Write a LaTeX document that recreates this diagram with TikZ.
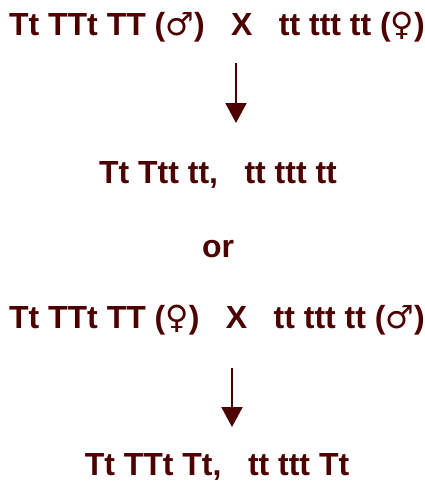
\documentclass[tikz,border=0pt]{standalone}
\usepackage{fontspec}
\setmainfont{Liberation Sans}
\newfontfamily\symfont{DejaVu Sans}
\usetikzlibrary{arrows.meta}
\definecolor{cross}{RGB}{77,0,0}
\newcommand{\sexm}{{\symfont\mdseries ♂}}
\newcommand{\sexf}{{\symfont\mdseries ♀}}
\newcommand{\gap}{\hspace{0.55em}}

\begin{document}
\begin{tikzpicture}[x=0.02cm, y=-0.02cm,
    line/.style={inner sep=0pt, anchor=base, text=cross,
      font=\fontsize{18.2}{22}\selectfont\bfseries},
    arr/.style={draw=cross, line width=0.04cm,
      -{Triangle[width=0.42cm, length=0.4cm]}}]

    % picture size
    \useasboundingbox (0, 0) rectangle (424, 481);

    % first cross
    \node[line] (p1) at (217, 35) {Tt TTt TT (\sexm) \gap X \gap tt ttt tt (\sexf)};

    % offspring
    \coordinate (a1s) at (236, 63);
    \coordinate (a1e) at (236, 123);
    \draw[arr] (a1s) -- (a1e);
    \node[line] (f1) at (218, 183) {Tt Ttt tt, \gap tt ttt tt};

    % or
    \node[line] (or) at (218, 257) {or};

    % reciprocal cross
    \node[line] (p2) at (217, 328) {Tt TTt TT (\sexf) \gap X \gap tt ttt tt (\sexm)};

    % offspring
    \coordinate (a2s) at (232, 368);
    \coordinate (a2e) at (232, 427);
    \draw[arr] (a2s) -- (a2e);
    \node[line] (f2) at (217, 475) {Tt TTt Tt, \gap tt ttt Tt};

\end{tikzpicture}
\end{document}
